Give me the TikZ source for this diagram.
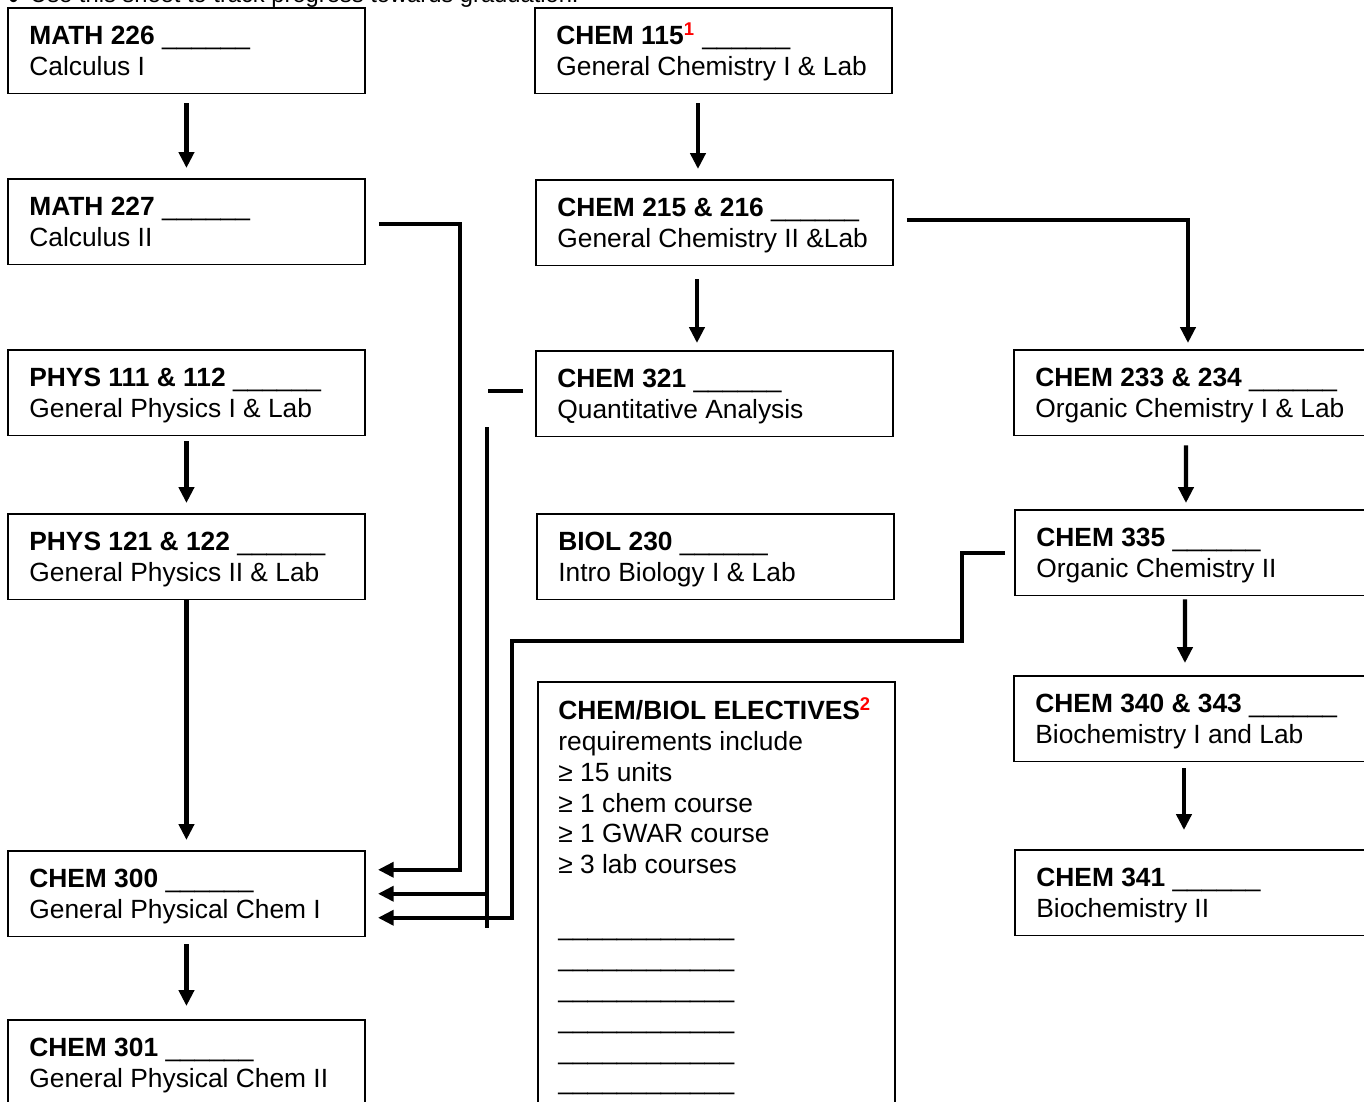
\documentclass[tikz,border=0pt]{standalone}
\usepackage{fontspec}
\setmainfont{Liberation Sans}
\usetikzlibrary{arrows.meta}

\newcommand{\blank}{\_\_\_\_\_\_}
\newcommand{\course}[2]{\begin{tabular}[t]{@{}l@{}}\textbf{#1} \blank\\#2\end{tabular}}

\begin{document}
\begin{tikzpicture}[x=0.02cm, y=-0.02cm,
	box/.style={draw, line width=1.1pt, minimum width=7.14cm, minimum height=1.71cm,
		inner sep=0pt, outer sep=0pt, anchor=north west},
	crs/.style={anchor=base west, inner sep=0pt, font=\fontsize{15}{17.57}\selectfont},
	conn/.style={line width=2.5pt},
	arr/.style={conn, -{Triangle[length=9pt, width=8.5pt]}, shorten <=0.2cm, shorten >=0.22cm}]
	
	\useasboundingbox (0,0) rectangle (1364,1101);
	
	% note on top
	\node[anchor=base west, inner sep=0pt, font=\fontsize{13.5}{16}\selectfont] (note) at (8,2.5)
	{\raisebox{-3.5pt}{\fontsize{17}{17}\selectfont •}\hspace{6.5pt}Use this sheet to track progress towards graduation.};
	
	% left column
	\node[box] (m226) at (8,8) {};
	\node[box] (m227) at (8,179) {};
	\node[box] (p111) at (8,350) {};
	\node[box] (p121) at (8,514) {};
	\node[box] (c300) at (8,851) {};
	\node[box] (c301) at (8,1020) {};
	
	\node[crs] (m226t) at ([shift={(21,36.5)}]m226.north west) {\course{MATH 226}{Calculus I}};
	\node[crs] (m227t) at ([shift={(21,36.5)}]m227.north west) {\course{MATH 227}{Calculus II}};
	\node[crs] (p111t) at ([shift={(21,36.5)}]p111.north west) {\course{PHYS 111 \& 112}{General Physics I \& Lab}};
	\node[crs] (p121t) at ([shift={(21,36.5)}]p121.north west) {\course{PHYS 121 \& 122}{General Physics II \& Lab}};
	\node[crs] (c300t) at ([shift={(21,36.5)}]c300.north west) {\course{CHEM 300}{General Physical Chem I}};
	\node[crs] (c301t) at ([shift={(21,36.5)}]c301.north west) {\course{CHEM 301}{General Physical Chem II}};
	
	% middle column
	\node[box] (c115) at (535,8) {};
	\node[box] (c215) at (536,180) {};
	\node[box] (c321) at (536,351) {};
	\node[box] (b230) at (537,514) {};
	\node[box, minimum height=9cm] (elec) at (538,682) {};
	
	\node[crs] (c115t) at ([shift={(21,36.5)}]c115.north west) {\course{CHEM 115\textsuperscript{\color{red}1}}{General Chemistry I \& Lab}};
	\node[crs] (c215t) at ([shift={(21,36.5)}]c215.north west) {\course{CHEM 215 \& 216}{General Chemistry II \&Lab}};
	\node[crs] (c321t) at ([shift={(21,36.5)}]c321.north west) {\course{CHEM 321}{Quantitative Analysis}};
	\node[crs] (b230t) at ([shift={(21,36.5)}]b230.north west) {\course{BIOL 230}{Intro Biology I \& Lab}};
	\node[crs] (elect) at ([shift={(20,37.5)}]elec.north west) {\begin{tabular}[t]{@{}l@{}}
			\textbf{CHEM/BIOL ELECTIVES\textsuperscript{\color{red}2}}\\
			requirements include\\
			≥ 15 units\\
			≥ 1 chem course\\
			≥ 1 GWAR course\\
			≥ 3 lab courses\\
			\\
			\blank\blank\\
			\blank\blank\\
			\blank\blank\\
			\blank\blank\\
			\blank\blank\\
			\blank\blank
	\end{tabular}};
	
	% right column
	\node[box] (c233) at (1014,350) {};
	\node[box] (c335) at (1015,510) {};
	\node[box] (c340) at (1014,676) {};
	\node[box] (c341) at (1015,850) {};
	
	\node[crs] (c233t) at ([shift={(21,36.5)}]c233.north west) {\course{CHEM 233 \& 234}{Organic Chemistry I \& Lab}};
	\node[crs] (c335t) at ([shift={(21,36.5)}]c335.north west) {\course{CHEM 335}{Organic Chemistry II}};
	\node[crs] (c340t) at ([shift={(21,36.5)}]c340.north west) {\course{CHEM 340 \& 343}{Biochemistry I and Lab}};
	\node[crs] (c341t) at ([shift={(21,36.5)}]c341.north west) {\course{CHEM 341}{Biochemistry II}};
	
	% straight arrows
	\draw[arr] (m226) -- (m227);
	\draw[arr, shorten <=0.12cm] (p111) -- (p121);
	\draw[arr, shorten <=0.02cm] (p121) -- (c300);
	\draw[arr, shorten <=0.16cm, shorten >=0.28cm] (c300) -- (c301);
	
	\draw[arr] ([xshift=-0.31cm]c115.south) -- ([xshift=-0.33cm]c215.north);
	\draw[arr, shorten <=0.28cm, shorten >=0.16cm] ([xshift=-0.35cm]c215.south) -- ([xshift=-0.35cm]c321.north);
	
	\draw[arr, shorten >=0.14cm] ([xshift=-0.13cm]c233.south) -- ([xshift=-0.15cm]c335.north);
	\draw[arr, shorten <=0.08cm, shorten >=0.26cm] ([xshift=-0.17cm]c335.south) -- ([xshift=-0.15cm]c340.north);
	\draw[arr, shorten <=0.14cm, shorten >=0.4cm] ([xshift=-0.17cm]c340.south) -- ([xshift=-0.19cm]c341.north);
	
	% elbow arrows
	\draw[arr, shorten <=0pt, shorten >=0.14cm] ([xshift=0.28cm, yshift=0.06cm]c215.east) -| ([xshift=-0.09cm]c233.north);
	\draw[arr, shorten <=0pt, shorten >=0.26cm] ([xshift=0.28cm, yshift=-0.04cm]m227.east)
	-| ([xshift=1.9cm, yshift=0.48cm]c300.east) -- ([yshift=0.48cm]c300.east);
	\draw[arr, shorten <=0pt, shorten >=0.26cm] ([xshift=-0.2cm]c335.west) -| (962,641)
	-| ([xshift=2.94cm, yshift=-0.48cm]c300.east) -- ([yshift=-0.48cm]c300.east);
	
	% broken line from CHEM 321
	\coordinate (q1) at (487,427);
	\coordinate (q2) at (487,928);
	\draw[conn] ([xshift=-0.26cm, yshift=0.06cm]c321.west) -- ++(-35,0);
	\draw[conn] (q1) -- (q2);
	\draw[arr, shorten <=0pt, shorten >=0.26cm] (q1 |- c300.east) -- (c300.east);
	
\end{tikzpicture}
\end{document}
